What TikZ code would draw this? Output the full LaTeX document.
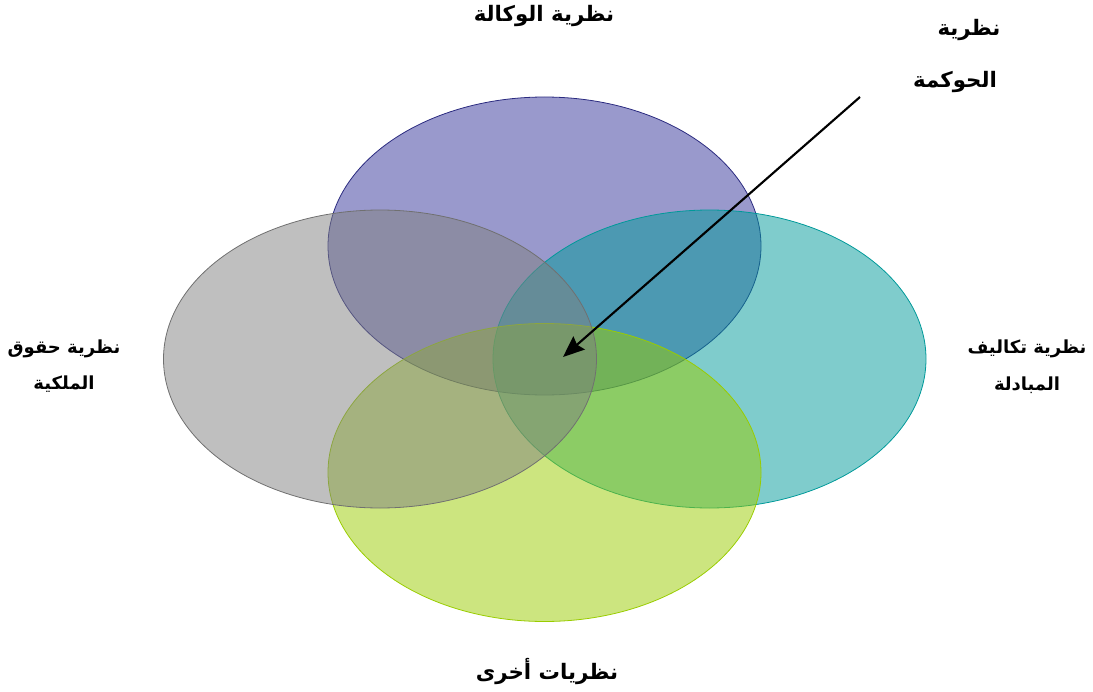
\documentclass[tikz,border=0pt]{standalone}
\usepackage{fontspec}
\newfontfamily\arabicfont[Script=Arabic]{DejaVu Sans}
\TeXXeTstate=1
\definecolor{agencyblue}{HTML}{333399}
\definecolor{agencyedge}{HTML}{2B2B80}
\definecolor{propertygray}{HTML}{808080}
\definecolor{propertyedge}{HTML}{707070}
\definecolor{costteal}{HTML}{009999}
\definecolor{otherlime}{HTML}{99CC00}
\usetikzlibrary{arrows.meta,shapes.geometric}
\newcommand{\artext}[1]{{\arabicfont\bfseries\beginR #1\endR}}
\tikzset{
    theorycircle/.style={
        ellipse,
        inner sep=0pt,
        minimum width=324.75pt,
        minimum height=223.5pt,
        line width=0.6pt,
        fill opacity=0.5
    },
    theorylabel/.style={
        align=center,
        inner sep=0pt,
        font=\fontsize{16}{19}\selectfont
    },
    sidelabel/.style={
        theorylabel,
        font=\fontsize{13.5}{16}\selectfont
    },
    pointerarrow/.style={
        -{Stealth[length=16pt,width=13pt,inset=2pt]},
        draw=black,
        line width=1.6pt
    }
}

\begin{document}
\begin{tikzpicture}[x=0.75pt,y=-0.75pt]
        \useasboundingbox (0,0) rectangle (1093,692);
        \node[theorycircle, draw=agencyedge, fill=agencyblue] (agency) at (544.5,246) {};
        \node[theorycircle, draw=costteal, fill=costteal] (transaction) at (709.5,359) {};
        \node[theorycircle, draw=otherlime, fill=otherlime] (others) at (544.5,472.5) {};
        \node[theorycircle, draw=propertyedge, fill=propertygray] (property) at (380,359) {};

        \node[theorylabel] (agencylabel) at (544,16) {\artext{نظرية الوكالة}};
        \node[sidelabel] (propertylabel) at (64,366)
            {\artext{نظرية حقوق}\\[11pt]\artext{الملكية}};
        \node[sidelabel] (transactionlabel) at (1027,367)
            {\artext{نظرية تكاليف}\\[12pt]\artext{المبادلة}};
        \node[theorylabel] (otherslabel) at (547,672) {\artext{نظريات أخرى}};
        \node[theorylabel] (governancelabel) at (955,56)
            {\hspace*{21pt}\artext{نظرية}\\[20pt]\artext{الحوكمة}};

        \coordinate (pointertail) at (860,97);
        \coordinate (governancecore) at (563,357);
        \draw[pointerarrow] (pointertail) -- (governancecore);
    \end{tikzpicture}
\end{document}
